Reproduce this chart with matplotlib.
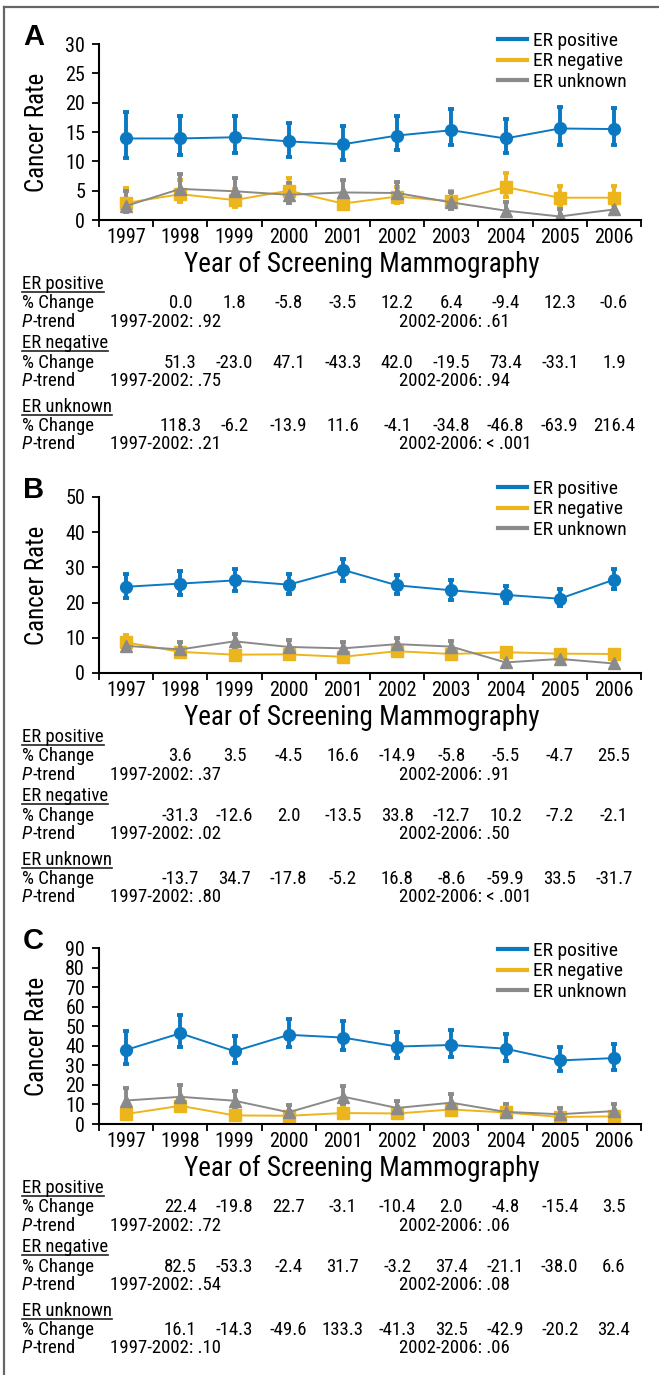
import matplotlib
matplotlib.use('Agg')
import matplotlib.pyplot as plt
import matplotlib.transforms as mtransforms
from matplotlib.lines import Line2D
import numpy as np

plt.rcParams['font.family'] = ['Liberation Sans Narrow', 'Roboto Condensed', 'Liberation Sans', 'DejaVu Sans']

years = [1997, 1998, 1999, 2000, 2001, 2002, 2003, 2004, 2005, 2006]
series_names = ['ER positive', 'ER negative', 'ER unknown']
colors = ['#0A79C1', '#EDB51C', '#8A8A8A']
markers = ['o', 's', '^']

# Panel A
a_pos = [13.9, 13.9, 14.1, 13.4, 12.9, 14.4, 15.3, 13.9, 15.6, 15.5]
a_pos_lo = [10.6, 11.0, 11.4, 10.8, 10.3, 11.9, 12.7, 11.4, 12.8, 12.7]
a_pos_hi = [18.4, 17.7, 17.7, 16.6, 16.1, 17.7, 18.9, 17.3, 19.2, 19.1]
a_neg = [2.9, 4.4, 3.4, 5.0, 2.8, 4.0, 3.2, 5.6, 3.8, 3.8]
a_neg_lo = [1.8, 3.1, 2.3, 3.5, 1.9, 2.9, 2.0, 4.0, 2.5, 2.5]
a_neg_hi = [5.4, 6.8, 5.3, 7.1, 4.3, 5.7, 5.0, 8.0, 5.8, 5.8]
a_unk = [2.4, 5.3, 4.9, 4.3, 4.7, 4.6, 3.0, 1.6, 0.6, 1.8]
a_unk_lo = [1.3, 3.6, 3.2, 2.9, 2.9, 3.3, 1.9, 0.9, 0.1, 1.1]
a_unk_hi = [4.9, 7.9, 7.1, 6.3, 6.8, 6.4, 4.7, 3.1, 1.9, 3.2]

# Panel B
b_pos = [24.5, 25.4, 26.3, 25.1, 29.3, 24.9, 23.5, 22.2, 21.1, 26.5]
b_pos_lo = [21.3, 22.3, 23.4, 22.4, 26.2, 22.4, 20.8, 19.8, 18.9, 23.8]
b_pos_hi = [28.2, 28.9, 29.5, 28.2, 32.5, 27.8, 26.3, 24.8, 23.8, 29.5]
b_neg = [8.7, 6.0, 5.2, 5.3, 4.6, 6.2, 5.4, 5.9, 5.5, 5.4]
b_neg_lo = [7.0, 4.9, 4.3, 4.4, 3.8, 5.2, 4.5, 4.9, 4.6, 4.5]
b_neg_hi = [10.8, 7.0, 6.2, 6.4, 5.6, 7.3, 6.4, 7.1, 6.6, 6.5]
b_unk = [7.7, 6.7, 9.0, 7.4, 7.0, 8.2, 7.5, 3.0, 4.0, 2.7]
b_unk_lo = [6.2, 5.1, 7.0, 5.8, 5.4, 6.5, 5.8, 2.0, 3.0, 1.9]
b_unk_hi = [10.0, 8.7, 11.1, 9.4, 8.8, 9.9, 9.2, 4.4, 5.1, 3.8]

# Panel C
c_pos = [37.9, 46.4, 37.2, 45.6, 44.2, 39.6, 40.4, 38.5, 32.5, 33.7]
c_pos_lo = [30.6, 39.3, 31.0, 39.2, 37.8, 33.6, 34.2, 32.2, 27.0, 27.6]
c_pos_hi = [47.6, 55.5, 44.9, 53.9, 52.5, 47.1, 48.1, 45.9, 39.5, 40.8]
c_neg = [5.1, 9.3, 4.4, 4.2, 5.6, 5.4, 7.4, 5.9, 3.6, 3.9]
c_neg_lo = [3.5, 7.2, 3.0, 2.8, 4.0, 4.0, 5.5, 4.3, 2.3, 2.5]
c_neg_hi = [7.5, 12.5, 6.5, 6.5, 8.0, 7.8, 9.8, 8.0, 5.5, 5.8]
c_unk = [12.0, 13.9, 11.9, 6.0, 14.0, 8.2, 10.9, 6.2, 5.0, 6.6]
c_unk_lo = [8.0, 10.0, 8.0, 3.5, 10.0, 5.0, 7.0, 3.5, 3.0, 3.8]
c_unk_hi = [18.3, 19.7, 16.9, 9.5, 19.2, 12.0, 15.1, 10.2, 8.0, 10.3]

# % change tables (1998..2006) and P-trend
a_chg = [['0.0', '1.8', '-5.8', '-3.5', '12.2', '6.4', '-9.4', '12.3', '-0.6'],
         ['51.3', '-23.0', '47.1', '-43.3', '42.0', '-19.5', '73.4', '-33.1', '1.9'],
         ['118.3', '-6.2', '-13.9', '11.6', '-4.1', '-34.8', '-46.8', '-63.9', '216.4']]
a_p = [('.92', '.61'), ('.75', '.94'), ('.21', '< .001')]
b_chg = [['3.6', '3.5', '-4.5', '16.6', '-14.9', '-5.8', '-5.5', '-4.7', '25.5'],
         ['-31.3', '-12.6', '2.0', '-13.5', '33.8', '-12.7', '10.2', '-7.2', '-2.1'],
         ['-13.7', '34.7', '-17.8', '-5.2', '16.8', '-8.6', '-59.9', '33.5', '-31.7']]
b_p = [('.37', '.91'), ('.02', '.50'), ('.80', '< .001')]
c_chg = [['22.4', '-19.8', '22.7', '-3.1', '-10.4', '2.0', '-4.8', '-15.4', '3.5'],
         ['82.5', '-53.3', '-2.4', '31.7', '-3.2', '37.4', '-21.1', '-38.0', '6.6'],
         ['16.1', '-14.3', '-49.6', '133.3', '-41.3', '32.5', '-42.9', '-20.2', '32.4']]
c_p = [('.72', '.06'), ('.54', '.08'), ('.10', '.06')]

W, H = 659, 1375
fig = plt.figure(figsize=(W / 100, H / 100), dpi=100)


def fy(py):
    return 1 - py / H


panels = [
    dict(letter='A', top=44, ymax=30, step=5, leg=40,
         data=[(a_pos, a_pos_lo, a_pos_hi), (a_neg, a_neg_lo, a_neg_hi), (a_unk, a_unk_lo, a_unk_hi)],
         chg=a_chg, p=a_p),
    dict(letter='B', top=497, ymax=50, step=10, leg=488,
         data=[(b_pos, b_pos_lo, b_pos_hi), (b_neg, b_neg_lo, b_neg_hi), (b_unk, b_unk_lo, b_unk_hi)],
         chg=b_chg, p=b_p),
    dict(letter='C', top=948, ymax=90, step=10, leg=950,
         data=[(c_pos, c_pos_lo, c_pos_hi), (c_neg, c_neg_lo, c_neg_hi), (c_unk, c_unk_lo, c_unk_hi)],
         chg=c_chg, p=c_p),
]

AX_L, AX_W, AX_H = 99, 542, 176
row_off = [64, 83, 102, 123, 143, 161, 187, 206, 224]
TFS = 13.5
renderer = fig.canvas.get_renderer()

for pn in panels:
    top = pn['top']
    ax = fig.add_axes([AX_L / W, fy(top + AX_H), AX_W / W, AX_H / H])
    x = np.arange(len(years))
    for (v, lo, hi), col, mk in zip(pn['data'], colors, markers):
        v, lo, hi = np.array(v), np.array(lo), np.array(hi)
        ax.errorbar(x, v, yerr=[v - lo, hi - v], color=col, marker=mk, ms=8.5,
                    lw=1.4, elinewidth=2.8, capsize=2.5, capthick=2.8)
    ax.set_xlim(-0.5, 9.5)
    ax.set_ylim(0, pn['ymax'])
    ax.set_yticks(np.arange(0, pn['ymax'] + 1, pn['step']))
    for s in ['top', 'right']:
        ax.spines[s].set_visible(False)
    for s in ['left', 'bottom']:
        ax.spines[s].set_linewidth(1.5)
    ax.set_xticks(x)
    ax.set_xticklabels([str(y) for y in years])
    ax.set_xticks(np.arange(-0.5, 10, 1), minor=True)
    ax.tick_params(axis='x', which='major', length=0, labelsize=14.5, pad=6)
    ax.tick_params(axis='x', which='minor', length=5, width=1.3, direction='out')
    ax.tick_params(axis='y', length=5, width=1.3, labelsize=14.5, pad=5)

    # legend
    handles = [Line2D([], [], color=c, lw=3) for c in colors]
    ax.legend(handles, series_names, loc='upper left',
              bbox_to_anchor=(498 / W, fy(pn['leg'] - 8)), bbox_transform=fig.transFigure,
              frameon=False, fontsize=14, handlelength=1.5, handletextpad=0.3,
              labelspacing=0.12, borderpad=0, borderaxespad=0)

    fig.text(23 / W, fy(top - 7), pn['letter'], fontsize=21, fontweight='bold',
             family='Liberation Sans', ha='left', va='center')
    fig.text(37 / W, fy(top + AX_H / 2), 'Cancer Rate', rotation=90, fontsize=18,
             ha='center', va='center')
    fig.text(362 / W, fy(top + AX_H + 44), 'Year of Screening Mammography', fontsize=19.5,
             ha='center', va='center')

    # table
    base = top + AX_H
    tr = mtransforms.blended_transform_factory(ax.transData, fig.transFigure)
    for k, name in enumerate(series_names):
        yh = base + row_off[3 * k]
        yc = base + row_off[3 * k + 1]
        yp = base + row_off[3 * k + 2]
        t = fig.text(22 / W, fy(yh), name, fontsize=TFS, ha='left', va='center')
        bb = t.get_window_extent(renderer)
        fig.add_artist(Line2D([22 / W, bb.x1 / W], [fy(yh + 8)] * 2, color='#222222',
                              lw=1.2, transform=fig.transFigure))
        fig.text(22 / W, fy(yc), '% Change', fontsize=TFS, ha='left', va='center')
        for i, val in enumerate(pn['chg'][k]):
            fig.text(i + 1, fy(yc), val, fontsize=TFS, ha='center', va='center', transform=tr)
        tp = fig.text(22 / W, fy(yp), 'P', fontsize=TFS, style='italic', ha='left', va='center')
        bp = tp.get_window_extent(renderer)
        fig.text(bp.x1 / W, fy(yp), '-trend', fontsize=TFS, ha='left', va='center')
        fig.text(110 / W, fy(yp), '1997-2002: ' + pn['p'][k][0], fontsize=TFS, ha='left', va='center')
        fig.text(399 / W, fy(yp), '2002-2006: ' + pn['p'][k][1], fontsize=TFS, ha='left', va='center')

# frame lines (left and top)
fig.add_artist(Line2D([4 / W, 4 / W], [0, fy(7)], color='#666666', lw=1.6, transform=fig.transFigure))
fig.add_artist(Line2D([4 / W, 1], [fy(7), fy(7)], color='#666666', lw=1.6, transform=fig.transFigure))

fig.savefig('out.png', dpi=100)
